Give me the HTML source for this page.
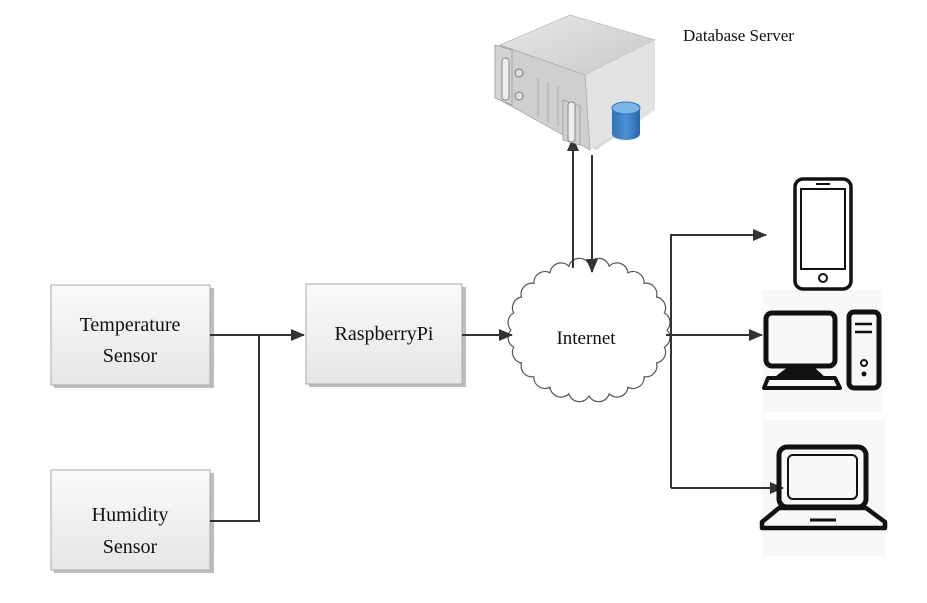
<!DOCTYPE html>
<html><head><meta charset="utf-8"><style>
html,body{margin:0;padding:0;background:#fff;}
svg{display:block;}
text{font-family:"Liberation Serif",serif;fill:#111;}
</style></head><body>
<svg width="927" height="603" viewBox="0 0 927 603" xmlns="http://www.w3.org/2000/svg">
<defs>
<linearGradient id="bx" x1="0" y1="0" x2="0" y2="1"><stop offset="0" stop-color="#fafafa"/><stop offset="1" stop-color="#e6e6e6"/></linearGradient>
<linearGradient id="top" x1="0" y1="0" x2="1" y2="1"><stop offset="0" stop-color="#e8e8e8"/><stop offset="1" stop-color="#c8c8c8"/></linearGradient>
<linearGradient id="cyl" x1="0" y1="0" x2="1" y2="0"><stop offset="0" stop-color="#2f72b8"/><stop offset="0.5" stop-color="#4c92d6"/><stop offset="1" stop-color="#2a65a8"/></linearGradient>
<marker id="ar2" markerWidth="14" markerHeight="12" refX="13" refY="6" orient="auto" markerUnits="userSpaceOnUse"><path d="M0,0 L14,6 L0,12 Z" fill="#333"/></marker>
</defs>

<rect x="762" y="290" width="120" height="122" fill="#f8f8f8"/>
<rect x="762" y="420" width="124" height="136" fill="#f8f8f8"/>

<rect x="54" y="288" width="160" height="100" fill="#bdbdbd"/>
<rect x="51" y="285" width="159" height="100" fill="url(#bx)" stroke="#aaa"/>
<text x="130" y="331" font-size="20" text-anchor="middle">Temperature</text>
<text x="130" y="362" font-size="20" text-anchor="middle">Sensor</text>

<rect x="54" y="473" width="160" height="100" fill="#bdbdbd"/>
<rect x="51" y="470" width="159" height="100" fill="url(#bx)" stroke="#aaa"/>
<text x="130" y="521" font-size="20" text-anchor="middle">Humidity</text>
<text x="130" y="553" font-size="20" text-anchor="middle">Sensor</text>

<rect x="309" y="287" width="157" height="100" fill="#bdbdbd"/>
<rect x="306" y="284" width="156" height="100" fill="url(#bx)" stroke="#aaa"/>
<text x="384" y="340" font-size="20" text-anchor="middle">RaspberryPi</text>

<path fill="#fff" stroke="#555" stroke-width="1.2" d="M667,330 A11,11 0 0 1 664.3,347.1 A11,11 0 0 1 656.5,363 A11,11 0 0 1 644.1,376.7 A11,11 0 0 1 628,387.2 A11,11 0 0 1 609.2,393.8 A11,11 0 0 1 589,396 A11,11 0 0 1 568.8,393.8 A11,11 0 0 1 550,387.2 A11,11 0 0 1 533.9,376.7 A11,11 0 0 1 521.5,363 A11,11 0 0 1 513.7,347.1 A11,11 0 0 1 511,330 A11,11 0 0 1 513.7,312.9 A11,11 0 0 1 521.5,297 A11,11 0 0 1 533.9,283.3 A11,11 0 0 1 550,272.8 A11,11 0 0 1 568.8,266.2 A11,11 0 0 1 589,264 A11,11 0 0 1 609.2,266.2 A11,11 0 0 1 628,272.8 A11,11 0 0 1 644.1,283.3 A11,11 0 0 1 656.5,297 A11,11 0 0 1 664.3,312.9 A11,11 0 0 1 667,330 Z"/>
<text x="586" y="344" font-size="19" text-anchor="middle">Internet</text>

<g stroke="#333" stroke-width="2" fill="none">
<line x1="210" y1="335" x2="304" y2="335" marker-end="url(#ar2)"/>
<polyline points="210,521 259,521 259,335"/>
<line x1="462" y1="335" x2="512" y2="335" marker-end="url(#ar2)"/>
<polyline points="666,335 671,335"/>
<line x1="671" y1="234" x2="671" y2="488"/>
<line x1="671" y1="235" x2="766" y2="235" marker-end="url(#ar2)"/>
<line x1="671" y1="335" x2="762" y2="335" marker-end="url(#ar2)"/>
<line x1="671" y1="488" x2="783" y2="488" marker-end="url(#ar2)"/>
<line x1="573" y1="268" x2="573" y2="138" marker-end="url(#ar2)"/>
<line x1="592" y1="155" x2="592" y2="272" marker-end="url(#ar2)"/>
</g>

<g>
<polygon points="500,45 570,15 655,40 655,110 596,150 580,140 500,95" fill="#d8d8d8"/>
<polygon points="500,45 570,15 655,40 585,75" fill="url(#top)" stroke="#bbb" stroke-width="0.8"/>
<polygon points="585,75 655,40 655,110 590,150" fill="#e2e2e2"/>
<polygon points="500,45 585,75 590,150 500,100" fill="#cfcfcf" stroke="#aaa" stroke-width="0.8"/>
<polygon points="495,45 512,50 512,105 495,98" fill="#d4d4d4" stroke="#999" stroke-width="0.8"/>
<rect x="502" y="58" width="7" height="42" rx="3" fill="#eee" stroke="#888"/>
<circle cx="519" cy="73" r="4" fill="#ddd" stroke="#777"/>
<circle cx="519" cy="96" r="4" fill="#ddd" stroke="#777"/>
<line x1="538" y1="78" x2="538" y2="118" stroke="#aaa"/>
<line x1="548" y1="82" x2="548" y2="122" stroke="#aaa"/>
<line x1="558" y1="86" x2="558" y2="126" stroke="#aaa"/>
<polygon points="563,100 580,106 580,145 563,140" fill="#d0d0d0" stroke="#999" stroke-width="0.8"/>
<rect x="568" y="102" width="7" height="40" rx="3" fill="#eee" stroke="#888"/>
<path d="M612,108 L612,134 A14,6 0 0 0 640,134 L640,108 Z" fill="url(#cyl)"/>
<ellipse cx="626" cy="108" rx="14" ry="6" fill="#7fb6e8" stroke="#2f72b8"/>
</g>
<text x="683" y="41" font-size="17">Database Server</text>

<g fill="none" stroke="#111">
<rect x="795" y="179" width="56" height="110" rx="8" stroke-width="3.5"/>
<rect x="801" y="189" width="44" height="80" stroke-width="2"/>
<line x1="816" y1="184" x2="830" y2="184" stroke-width="2"/>
<circle cx="823" cy="278" r="4" stroke-width="2"/>
</g>
<g fill="none" stroke="#111" stroke-linejoin="round">
<rect x="766" y="313" width="69" height="53" rx="6" stroke-width="5"/>
<path d="M790,368 L812,368 L822,377 L778,377 Z" stroke-width="4" fill="#111"/>
<path d="M768,378 L835,378 L840,388 L764,388 Z" stroke-width="4"/>
<rect x="849" y="312" width="30" height="76" rx="5" stroke-width="5"/>
<line x1="855" y1="324" x2="872" y2="324" stroke-width="2.5"/>
<line x1="855" y1="332" x2="872" y2="332" stroke-width="2.5"/>
<circle cx="864" cy="363" r="3" stroke-width="2"/>
<circle cx="864" cy="374" r="2" fill="#111" stroke-width="1"/>
</g>
<g fill="none" stroke="#111" stroke-linejoin="round">
<rect x="779" y="447" width="87" height="60" rx="8" stroke-width="5"/>
<rect x="788" y="455" width="69" height="44" rx="5" stroke-width="2"/>
<path d="M779,508 L866,508 L885,522 L885,528 L762,528 L762,522 Z" stroke-width="4.5"/>
<path d="M810,520 L836,520" stroke-width="3"/>
</g>
</svg>
</body></html>
